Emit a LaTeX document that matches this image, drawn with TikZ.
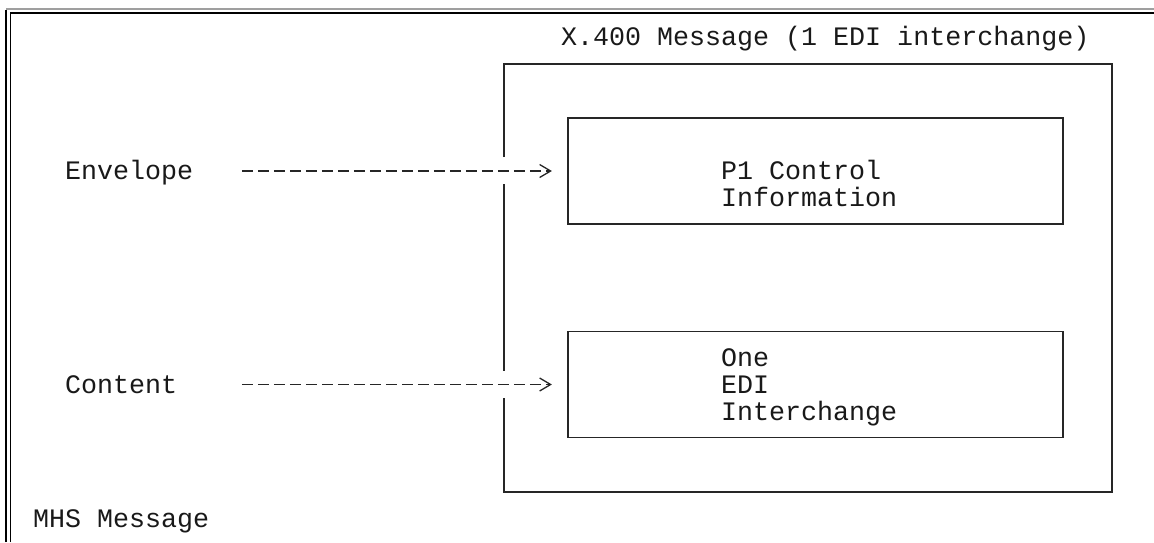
\documentclass[tikz,border=0pt]{standalone}
\usepackage{fontspec}
\setmonofont{Liberation Mono}
\usetikzlibrary{arrows.meta,calc}

\tikzset{
    txt/.style={anchor=base west, inner sep=0pt, font=\ttfamily\fontsize{26.67}{26.75}\selectfont, text=black!90},
    edge/.style={draw=black!85, line width=1.2pt},
    infobox/.style={edge, minimum width=495pt, minimum height=106pt, inner sep=0pt},
    link/.style={black!85, line width=1.3pt, dash pattern=on 11.5pt off 4.5pt,
        -{Straight Barb[length=11pt, width=13pt, sep=5.5pt, line cap=butt, line join=miter]}}
}

\begin{document}
\begin{tikzpicture}[x=1pt, y=-1pt]
        \useasboundingbox (0,0) rectangle (1154,542);

        % page frame
        \draw[gray!75, line width=2pt] (6,9) -- (1154,9);
        \draw[line width=1.1pt] (6,542) -- (6,10);
        \draw[line width=1.1pt] (10.5,542) -- (10.5,13) -- (1154,13);

        \node[txt] (title) at (561,45.75) {X.400 Message (1 EDI interchange)};

        % outer message box, open where the arrows pass
        \draw[edge] (504,157) -- (504,64) -- (1112,64) -- (1112,492) -- (504,492) -- (504,398);
        \draw[edge] (504,184) -- (504,371);

        \node[infobox] (ctrl) at (815.5,171) {};
        \node[txt] (ctrl1) at (721,179.5) {P1 Control};
        \node[txt] (ctrl2) at (721,206.25) {Information};

        \node[infobox] (edi) at (815.5,384.5) {};
        \node[txt] (edi1) at (721,366.75) {One};
        \node[txt] (edi2) at (721,393.5) {EDI};
        \node[txt] (edi3) at (721,420.25) {Interchange};

        \node[txt] (envelope) at (65,179.5) {Envelope};
        \draw[link] ($(envelope.east |- ctrl.west)+(48.5,0)$) -- ([xshift=-10pt]ctrl.west);

        \node[txt] (content) at (65,393.5) {Content};
        \draw[link] ($(envelope.east |- edi.west)+(48.5,0)$) -- ([xshift=-10pt]edi.west);

        \node[txt] (mhs) at (33,527.25) {MHS Message};

    \end{tikzpicture}
\end{document}
